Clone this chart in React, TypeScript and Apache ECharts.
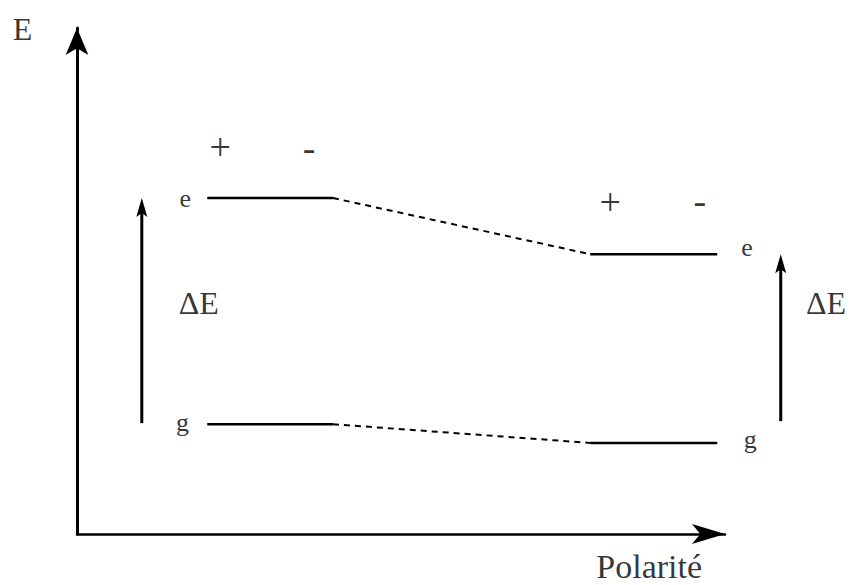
import React, { useEffect, useRef } from "react";
import * as echarts from "echarts";

// Energy-level diagram values (abstract units)
const sideNames = ["gauche", "droite"];
const xSpans = [
  [2.01, 3.95],
  [7.92, 9.88],
];
const eLevels = [6.64, 5.53];
const gLevels = [2.17, 1.8];
const arrowX = [1.0, 10.86];
const arrowBottom = [2.19, 2.23];

// text annotations [x, y, text]
const levelLabels: [number, number, string][] = [
  [1.67, 6.64, "e"],
  [1.63, 2.21, "g"],
  [10.34, 5.67, "e"],
  [10.39, 1.86, "g"],
];
const deltaLabels: [number, number, string][] = [
  [1.88, 4.57, "ΔE"],
  [11.56, 4.57, "ΔE"],
];
const signLabels: [number, number, string][] = [
  [2.21, 7.65, "+"],
  [3.58, 7.62, "-"],
  [8.23, 6.56, "+"],
  [9.61, 6.59, "-"],
];
const yTitle: [number, number, string][] = [[-0.84, 9.99, "E"]];
const xTitle: [number, number, string][] = [[8.83, -0.652, "Polarité"]];

const FONT = "'Liberation Serif', 'Times New Roman', serif";

export default function App() {
  const ref = useRef<HTMLDivElement>(null);
  useEffect(() => {
    if (!ref.current) return;
    const chart = echarts.init(ref.current, undefined, { renderer: "svg" });

    const series: any[] = [];
    // solid levels
    xSpans.forEach((span, i) => {
      [eLevels[i], gLevels[i]].forEach((lv, k) => {
        series.push({
          type: "line",
          name: `${k === 0 ? "e" : "g"} ${sideNames[i]}`,
          data: [
            [span[0], lv],
            [span[1], lv],
          ],
          symbol: "none",
          clip: false,
          lineStyle: { color: "#000", width: 2.5 },
          silent: true,
        });
      });
    });
    // dashed connectors
    [eLevels, gLevels].forEach((lv, k) => {
      series.push({
        type: "line",
        name: `${k === 0 ? "e" : "g"} transition`,
        data: [
          [xSpans[0][1], lv[0]],
          [xSpans[1][0], lv[1]],
        ],
        symbol: "none",
        clip: false,
        lineStyle: { color: "#000", width: 2, type: [6, 5] },
        silent: true,
      });
    });
    // delta E arrows (custom series: shaft + notched head)
    series.push({
      type: "custom",
      name: "ΔE",
      clip: false,
      silent: true,
      data: arrowX.map((x, i) => [x, arrowBottom[i], eLevels[i]]),
      renderItem: (params: any, api: any) => {
        const b = api.coord([api.value(0), api.value(1)]);
        const t = api.coord([api.value(0), api.value(2)]);
        const hw = 5.5;
        const hl = 19;
        return {
          type: "group",
          children: [
            {
              type: "line",
              shape: { x1: b[0], y1: b[1], x2: t[0], y2: t[1] + 12 },
              style: { stroke: "#000", lineWidth: 3 },
            },
            {
              type: "polygon",
              shape: {
                points: [
                  [t[0], t[1]],
                  [t[0] + hw, t[1] + hl],
                  [t[0], t[1] + hl - 4],
                  [t[0] - hw, t[1] + hl],
                ],
              },
              style: { fill: "#000" },
            },
          ],
        };
      },
    });

    const textSeries = (
      name: string,
      pts: [number, number, string][],
      fontSize: number,
      lineHeight?: number
    ) => ({
      type: "scatter",
      name,
      data: pts,
      symbolSize: 1,
      clip: false,
      silent: true,
      itemStyle: { color: "rgba(0,0,0,0)" },
      label: {
        show: true,
        position: "inside",
        formatter: (p: any) => p.data[2],
        color: "#000",
        fontFamily: FONT,
        fontSize,
        ...(lineHeight ? { lineHeight } : {}),
      },
    });
    series.push(textSeries("niveaux", levelLabels, 26));
    series.push(textSeries("delta", deltaLabels, 32));
    series.push(textSeries("signes", signLabels, 38));
    series.push(textSeries("axe E", yTitle, 32));
    series.push(textSeries("axe polarité", xTitle, 34, 20));

    chart.setOption({
      animation: false,
      backgroundColor: "#fff",
      grid: { left: 77, right: 128, top: 28, bottom: 51 },
      xAxis: {
        type: "value",
        min: 0,
        max: 10,
        axisLine: {
          show: true,
          onZero: false,
          symbol: ["none", "arrow"],
          symbolSize: [15, 33],
          lineStyle: { color: "#000", width: 2.5 },
        },
        axisTick: { show: false },
        axisLabel: { show: false },
        splitLine: { show: false },
      },
      yAxis: {
        type: "value",
        min: 0,
        max: 10,
        axisLine: {
          show: true,
          onZero: false,
          symbol: ["none", "arrow"],
          symbolSize: [17, 27],
          lineStyle: { color: "#000", width: 3 },
        },
        axisTick: { show: false },
        axisLabel: { show: false },
        splitLine: { show: false },
      },
      series,
    });
    return () => chart.dispose();
  }, []);
  return (
    <div
      ref={ref}
      style={{ position: "fixed", left: 0, top: 0, width: 853, height: 585 }}
    />
  );
}
